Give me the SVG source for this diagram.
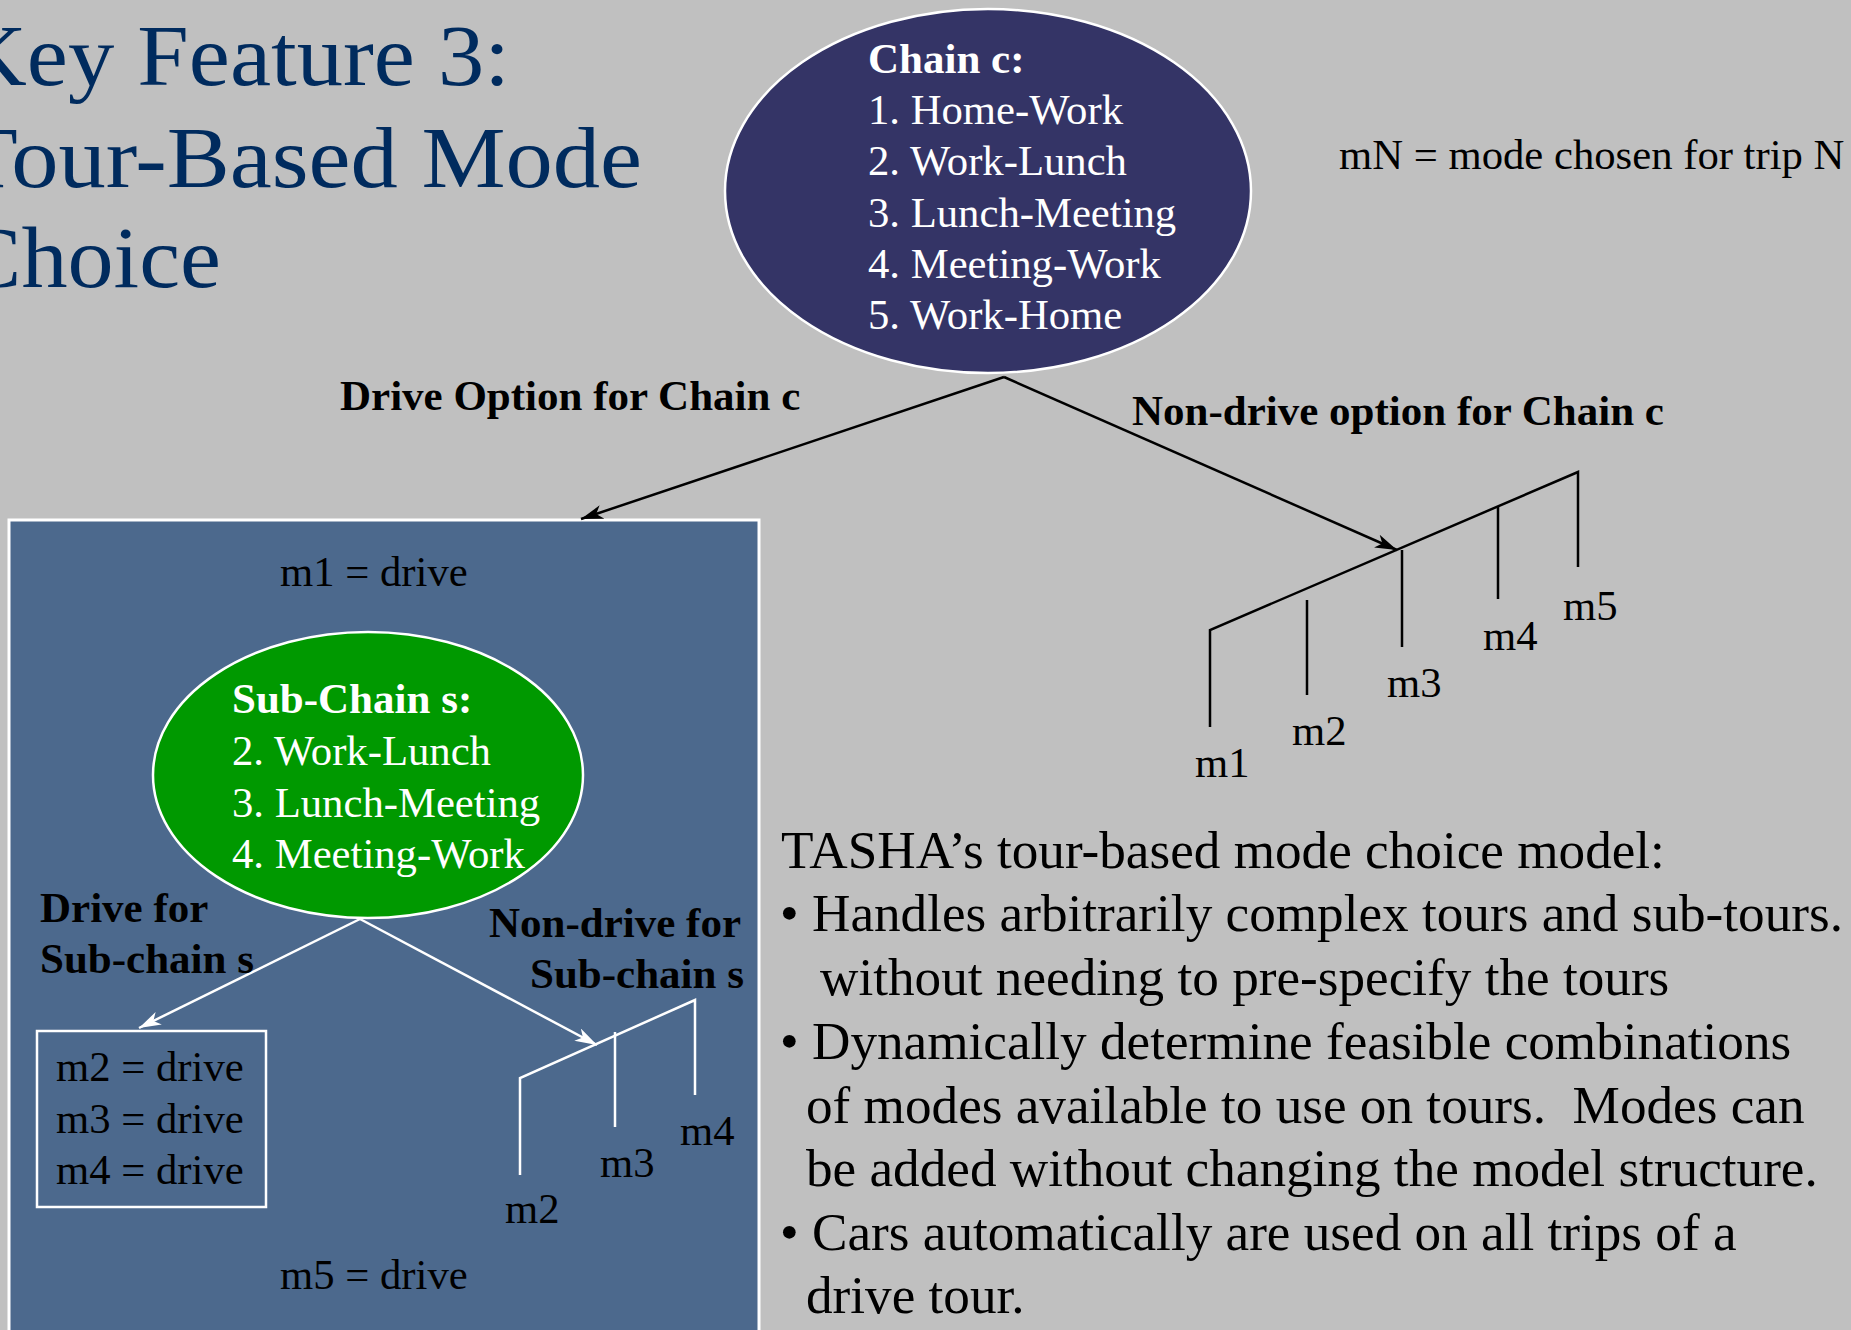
<svg xmlns="http://www.w3.org/2000/svg" width="1851" height="1330" viewBox="0 0 1851 1330">
<style>
text{font-family:"Liberation Serif","Times New Roman",serif;}
.title{font-size:86px;fill:#002b5e;}
.t42{font-size:42.7px;fill:#000;}
.b42{font-size:43px;font-weight:bold;fill:#000;}
.w42{font-size:42.7px;fill:#fff;}
.wb42{font-size:43px;font-weight:bold;fill:#fff;}
.t52{font-size:53.2px;fill:#000;}
.blk{stroke:#000;stroke-width:2.5;fill:none;}
.wht{stroke:#fff;stroke-width:2.5;fill:none;}
</style>
<defs>
<marker id="ab" markerUnits="userSpaceOnUse" markerWidth="24" markerHeight="16" refX="22" refY="7" orient="auto">
<path d="M0,0 L22,7 L0,14 L6,7 z" fill="#000"/>
</marker>
<marker id="aw" markerUnits="userSpaceOnUse" markerWidth="24" markerHeight="16" refX="22" refY="7" orient="auto">
<path d="M0,0 L22,7 L0,14 L6,7 z" fill="#fff"/>
</marker>
</defs>
<rect x="0" y="0" width="1851" height="1330" fill="#c0c0c0"/>

<g id="title">
<text class="title" x="-40" y="85" textLength="550" lengthAdjust="spacingAndGlyphs">Key Feature 3:</text>
<text class="title" x="-40" y="187" textLength="682" lengthAdjust="spacingAndGlyphs">Tour-Based Mode</text>
<text class="title" x="-40" y="287" textLength="261" lengthAdjust="spacingAndGlyphs">Choice</text>
</g>

<g id="legend">
<text class="t42" x="1339" y="169">mN = mode chosen for trip N</text>
</g>

<g id="chain-c">
<ellipse cx="988" cy="191" rx="263" ry="182" fill="#343466" stroke="#fff" stroke-width="2.5"/>
<text class="wb42" x="868" y="73">Chain c:</text>
<text class="w42" x="868" y="124">1. Home-Work</text>
<text class="w42" x="868" y="175">2. Work-Lunch</text>
<text class="w42" x="868" y="227">3. Lunch-Meeting</text>
<text class="w42" x="868" y="278">4. Meeting-Work</text>
<text class="w42" x="868" y="329">5. Work-Home</text>
</g>

<g id="drive-box">
<rect x="9" y="520" width="750" height="830" fill="#4c698d" stroke="#fff" stroke-width="3"/>
<text class="t42" x="280" y="586">m1 = drive</text>
<text class="t42" x="280" y="1289">m5 = drive</text>
</g>

<g id="sub-chain-s">
<ellipse cx="368" cy="775" rx="215" ry="143" fill="#009900" stroke="#fff" stroke-width="2.5"/>
<text class="wb42" x="232" y="713">Sub-Chain s:</text>
<text class="w42" x="232" y="765">2. Work-Lunch</text>
<text class="w42" x="232" y="817">3. Lunch-Meeting</text>
<text class="w42" x="232" y="868">4. Meeting-Work</text>
</g>

<g id="sub-drive-box">
<rect x="37" y="1031" width="229" height="176" fill="none" stroke="#fff" stroke-width="2.5"/>
<text class="t42" x="56" y="1081">m2 = drive</text>
<text class="t42" x="56" y="1133">m3 = drive</text>
<text class="t42" x="56" y="1184">m4 = drive</text>
</g>

<g id="nondrive-tree">
<polyline class="blk" points="1210,727 1210,630 1578,472 1578,567"/>
<line class="blk" x1="1307" y1="600" x2="1307" y2="695"/>
<line class="blk" x1="1402" y1="550" x2="1402" y2="647"/>
<line class="blk" x1="1498" y1="506" x2="1498" y2="599"/>
<text class="t42" x="1195" y="777">m1</text>
<text class="t42" x="1292" y="745">m2</text>
<text class="t42" x="1387" y="697">m3</text>
<text class="t42" x="1483" y="650">m4</text>
<text class="t42" x="1563" y="620">m5</text>
</g>

<g id="sub-nondrive-tree">
<polyline class="wht" points="520,1175 520,1078 695,1000 695,1095"/>
<line class="wht" x1="615" y1="1032" x2="615" y2="1127"/>
<text class="t42" x="505" y="1223">m2</text>
<text class="t42" x="600" y="1177">m3</text>
<text class="t42" x="680" y="1145">m4</text>
</g>

<g id="connectors">
<line class="blk" x1="1004" y1="377" x2="581" y2="519" marker-end="url(#ab)"/>
<line class="blk" x1="1004" y1="377" x2="1397" y2="550" marker-end="url(#ab)"/>
<line class="wht" x1="360" y1="919" x2="139" y2="1028" marker-end="url(#aw)"/>
<line class="wht" x1="360" y1="919" x2="597" y2="1045" marker-end="url(#aw)"/>
</g>

<g id="labels">
<text class="b42" x="340" y="410">Drive Option for Chain c</text>
<text class="b42" x="1132" y="425">Non-drive option for Chain c</text>
<text class="b42" x="40" y="922">Drive for</text>
<text class="b42" x="40" y="973">Sub-chain s</text>
<text class="b42" x="489" y="937">Non-drive for</text>
<text class="b42" x="530" y="988">Sub-chain s</text>
</g>

<g id="notes">
<text class="t52" x="781" y="868">TASHA’s tour-based mode choice model:</text>
<text class="t52" x="780" y="931">•</text>
<text class="t52" x="812" y="931">Handles arbitrarily complex tours and sub-tours.</text>
<text class="t52" x="820" y="995">without needing to pre-specify the tours</text>
<text class="t52" x="780" y="1059">•</text>
<text class="t52" x="812" y="1059">Dynamically determine feasible combinations</text>
<text class="t52" x="806" y="1123" xml:space="preserve">of modes available to use on tours.  Modes can</text>
<text class="t52" x="806" y="1186">be added without changing the model structure.</text>
<text class="t52" x="780" y="1250">•</text>
<text class="t52" x="812" y="1250">Cars automatically are used on all trips of a</text>
<text class="t52" x="806" y="1313">drive tour.</text>
</g>
</svg>
